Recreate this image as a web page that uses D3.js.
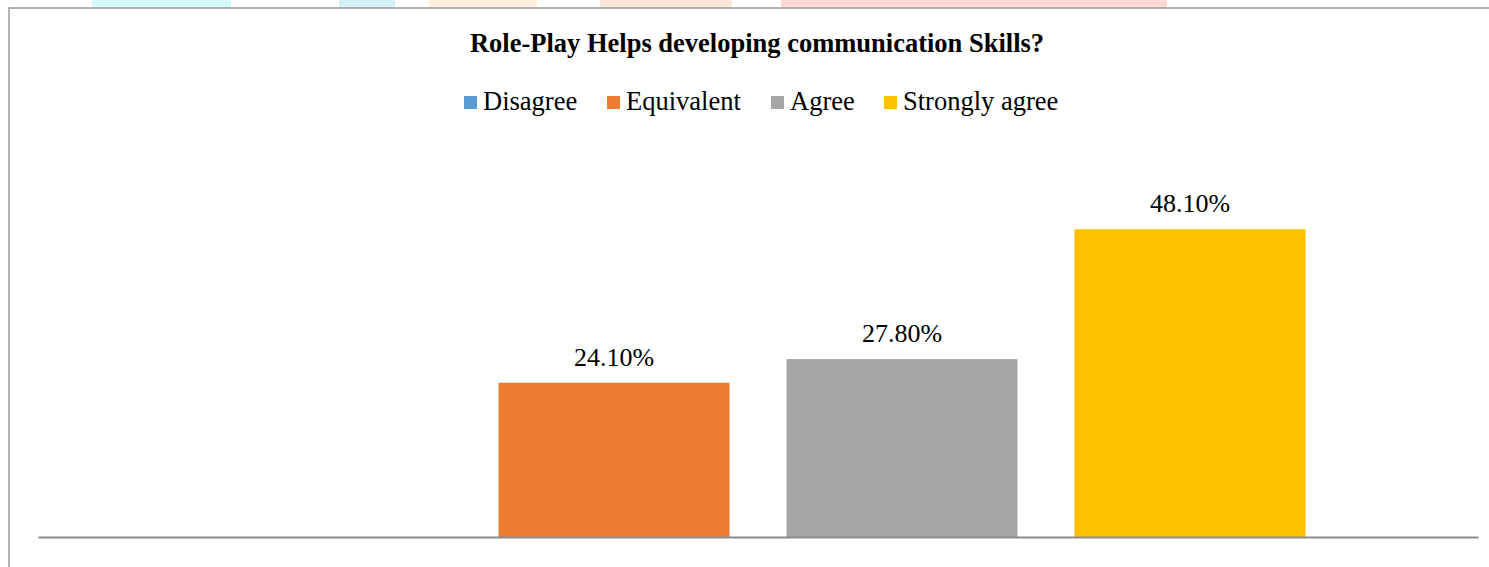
<!DOCTYPE html>
<html>
<head>
<meta charset="utf-8">
<script src="https://cdn.jsdelivr.net/npm/d3@7"></script>
<style>
  body { margin: 0; background: #fff; }
  svg { display: block; }
</style>
</head>
<body>
<div id="chart"></div>
<script>
const W = 1489, H = 567

// data
const title = 'Role-Play Helps developing communication Skills?'
const series = ['Disagree', 'Equivalent', 'Agree', 'Strongly agree']
const values = [0, 24.1, 27.8, 48.1]
const colors = ['#5B9BD5', '#ED7D31', '#A5A5A5', '#FFC000']

const plot = { left: 38, right: 1478, top: 153, bottom: 537 }

const svg = d3.select('#chart')
    .append('svg')
    .attr('width', W)
    .attr('height', H)

// faint page watermark strip at the very top
const marks = [[92, 231, '#d6fafa'], [339, 395, '#d4f1f8'], [429, 537, '#fdeedd'], [600, 732, '#fde6da'], [781, 1167, '#fdd8d4']]
svg.selectAll('rect.wm')
    .data(marks)
    .join('rect')
    .attr('class', 'wm')
    .attr('x', d => d[0])
    .attr('y', 0)
    .attr('width', d => d[1] - d[0])
    .attr('height', 8)
    .style('fill', d => d[2])

// chart frame
svg.append('rect')
    .attr('x', 9)
    .attr('y', 8)
    .attr('width', W + 20)
    .attr('height', H + 20)
    .style('fill', 'none')
    .style('stroke', '#9a9a9a')
    .style('stroke-width', '1.5px')

svg.append('text')
    .attr('x', 757)
    .attr('y', 52)
    .text(title)
    .style('font-family', '"Liberation Serif", "Times New Roman", serif')
    .style('font-weight', 'bold')
    .style('font-size', '26.5px')
    .style('text-anchor', 'middle')
    .style('fill', '#000')

// legend
const legendX = [464, 607, 771, 884]
const legend = svg.selectAll('g.legend')
    .data(series)
    .join('g')
    .attr('class', 'legend')
    .attr('transform', (d, i) => `translate(${legendX[i]}, 0)`)

legend.append('rect')
    .attr('x', 0)
    .attr('y', 96)
    .attr('width', 13)
    .attr('height', 13)
    .style('fill', (d, i) => colors[i])

legend.append('text')
    .attr('x', 19)
    .attr('y', 110)
    .text(d => d)
    .style('font-family', '"Liberation Serif", "Times New Roman", serif')
    .style('font-size', '26.5px')
    .style('fill', '#000')

// scales: one category, four series side by side
const cx = (plot.left + plot.right) / 2
const x = d3.scaleBand()
    .domain(series)
    .range([cx - 576, cx + 576])
    .paddingInner(0.198)
    .paddingOuter(0.099)

const y = d3.scaleLinear()
    .domain([0, 60])
    .range([plot.bottom, plot.top])

svg.selectAll('rect.bar')
    .data(series)
    .join('rect')
    .attr('class', 'bar')
    .attr('x', d => x(d))
    .attr('width', x.bandwidth())
    .attr('y', (d, i) => y(values[i]))
    .attr('height', (d, i) => y(0) - y(values[i]))
    .style('fill', (d, i) => colors[i])

svg.selectAll('text.lbl')
    .data(series.filter((d, i) => values[i] > 0))
    .join('text')
    .attr('class', 'lbl')
    .attr('x', d => x(d) + x.bandwidth() / 2)
    .attr('y', d => y(values[series.indexOf(d)]) - 17)
    .text(d => values[series.indexOf(d)].toFixed(2) + '%')
    .style('font-family', '"Liberation Serif", "Times New Roman", serif')
    .style('font-size', '26px')
    .style('text-anchor', 'middle')
    .style('fill', '#000')

// category axis line
const xAxis = d3.axisBottom(d3.scaleLinear().domain([0, 1]).range([plot.left, plot.right]))
    .tickValues([])
    .tickSizeOuter(0)

svg.append('g')
    .attr('transform', `translate(0, ${plot.bottom})`)
    .call(xAxis)
    .call(g => g.select('.domain')
        .style('stroke', '#8c8c8c')
        .style('stroke-width', '2px'))
</script>
</body>
</html>
